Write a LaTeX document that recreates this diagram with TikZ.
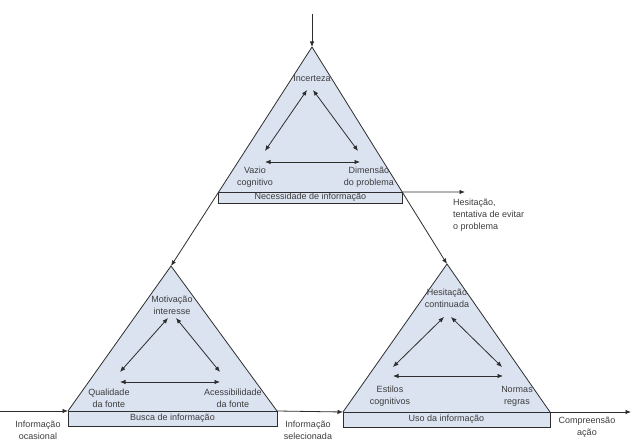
\documentclass[tikz,border=0pt]{standalone}
\usepackage{fontspec}
\setmainfont{Liberation Sans}
\usetikzlibrary{arrows.meta, positioning, calc}

\definecolor{triblue}{RGB}{219,227,241}
\definecolor{linegray}{RGB}{45,45,45}
\definecolor{textgray}{RGB}{60,60,60}

\begin{document}
\begin{tikzpicture}[x=1pt, y=-1pt,
    line/.style={draw=linegray, line width=0.8pt},
    arr/.style={line, -{Latex[length=5.5pt, width=4.5pt]}},
    dbl/.style={line, {Latex[length=5.5pt, width=4.5pt]}-{Latex[length=5.5pt, width=4.5pt]}},
    lbl/.style={font=\fontsize{9}{12}\selectfont, text=textgray, align=center, inner sep=1pt},
    stagebox/.style={line, fill=triblue}]
    \useasboundingbox (0,0) rectangle (633,446);

    % corners of the three stages
    \coordinate (src) at (312,14);
    \coordinate (tA) at (312,47);
    \coordinate (lA) at (171,266);
    \coordinate (rA) at (447,264);
    \coordinate (tL) at ($(tA)!0.6621!(lA)$);
    \coordinate (tR) at ($(tA)!0.6682!(rA)$);
    \coordinate (bL) at (68,411);
    \coordinate (bR) at (277,411);
    \coordinate (uL) at (343,412);
    \coordinate (uR) at (550,412);
    \coordinate (inL) at (0,411);
    \coordinate (outR) at (631,412);
    \coordinate (hesit) at (465,192);

    % necessidade
    \fill[triblue] (tA) -- (tL) -- (tR) -- cycle;
    \draw[stagebox] (tL) rectangle ($(tR)+(0,11)$);
    \node[lbl] (necess) at ($(tL)!0.5!(tR)+(0,5.5)$) {Necessidade de informação};

    % busca
    \fill[triblue] (lA) -- (bL) -- (bR) -- cycle;
    \draw[line] (bL) -- (lA) -- (bR);
    \draw[stagebox] (bL) rectangle ($(bR)+(0,15)$);
    \node[lbl] (busca) at ($(bL)!0.5!(bR)+(0,7)$) {Busca de informação};

    % uso
    \fill[triblue] (rA) -- (uL) -- (uR) -- cycle;
    \draw[line] (uL) -- (rA) -- (uR);
    \draw[stagebox] (uL) rectangle ($(uR)+(0,15)$);
    \node[lbl] (uso) at ($(uL)!0.5!(uR)+(0,7)$) {Uso da informação};

    % flow
    \draw[arr] (src) -- (tA);
    \draw[arr] (tA) -- (lA);
    \draw[arr] (tA) -- (rA);
    \draw[arr] (tR) -- (hesit);
    \draw[arr] (inL) -- (bL);
    \draw[arr] (bR) -- (uL);
    \draw[arr] (uR) -- (outR);

    \node[lbl, align=left, anchor=north west] (evitar) at (452,198)
        {Hesitação,\\tentativa de evitar\\o problema};
    \node[lbl] (ocasional) at (38,430) {Informação\\ocasional};
    \node[lbl] (selecionada) at (308,430) {Informação\\selecionada};
    \node[lbl] (acao) at (587,427) {Compreensão\\ação};

    % inner triangles
    \node[lbl] (incerteza) at (312,78) {Incerteza};
    \node[lbl] (vazio) at (255,177) {Vazio\\cognitivo};
    \node[lbl] (dimensao) at (369,177) {Dimensão\\do problema};
    \coordinate (n1) at (307,90);  \coordinate (n2) at (313,90);
    \coordinate (n3) at (265,151); \coordinate (n4) at (358,151);
    \coordinate (n5) at (265,162); \coordinate (n6) at (360,162);
    \draw[dbl] (n1) -- (n3);
    \draw[dbl] (n2) -- (n4);
    \draw[dbl] (n5) -- (n6);

    \node[lbl] (motivacao) at (172,305) {Motivação\\interesse};
    \node[lbl] (qualidade) at (109,398) {Qualidade\\da fonte};
    \node[lbl] (acesso) at (233,398) {Acessibilidade\\da fonte};
    \coordinate (b1) at (168,318); \coordinate (b2) at (176,318);
    \coordinate (b3) at (120,372); \coordinate (b4) at (220,372);
    \coordinate (b5) at (120,382); \coordinate (b6) at (220,382);
    \draw[dbl] (b1) -- (b3);
    \draw[dbl] (b2) -- (b4);
    \draw[dbl] (b5) -- (b6);

    \node[lbl] (continuada) at (447,298) {Hesitação\\continuada};
    \node[lbl] (estilos) at (390,396) {Estilos\\cognitivos};
    \node[lbl] (normas) at (517,396) {Normas\\regras};
    \coordinate (u1) at (444,317); \coordinate (u2) at (451,317);
    \coordinate (u3) at (393,367); \coordinate (u4) at (502,367);
    \coordinate (u5) at (393,376); \coordinate (u6) at (503,376);
    \draw[dbl] (u1) -- (u3);
    \draw[dbl] (u2) -- (u4);
    \draw[dbl] (u5) -- (u6);
\end{tikzpicture}
\end{document}
